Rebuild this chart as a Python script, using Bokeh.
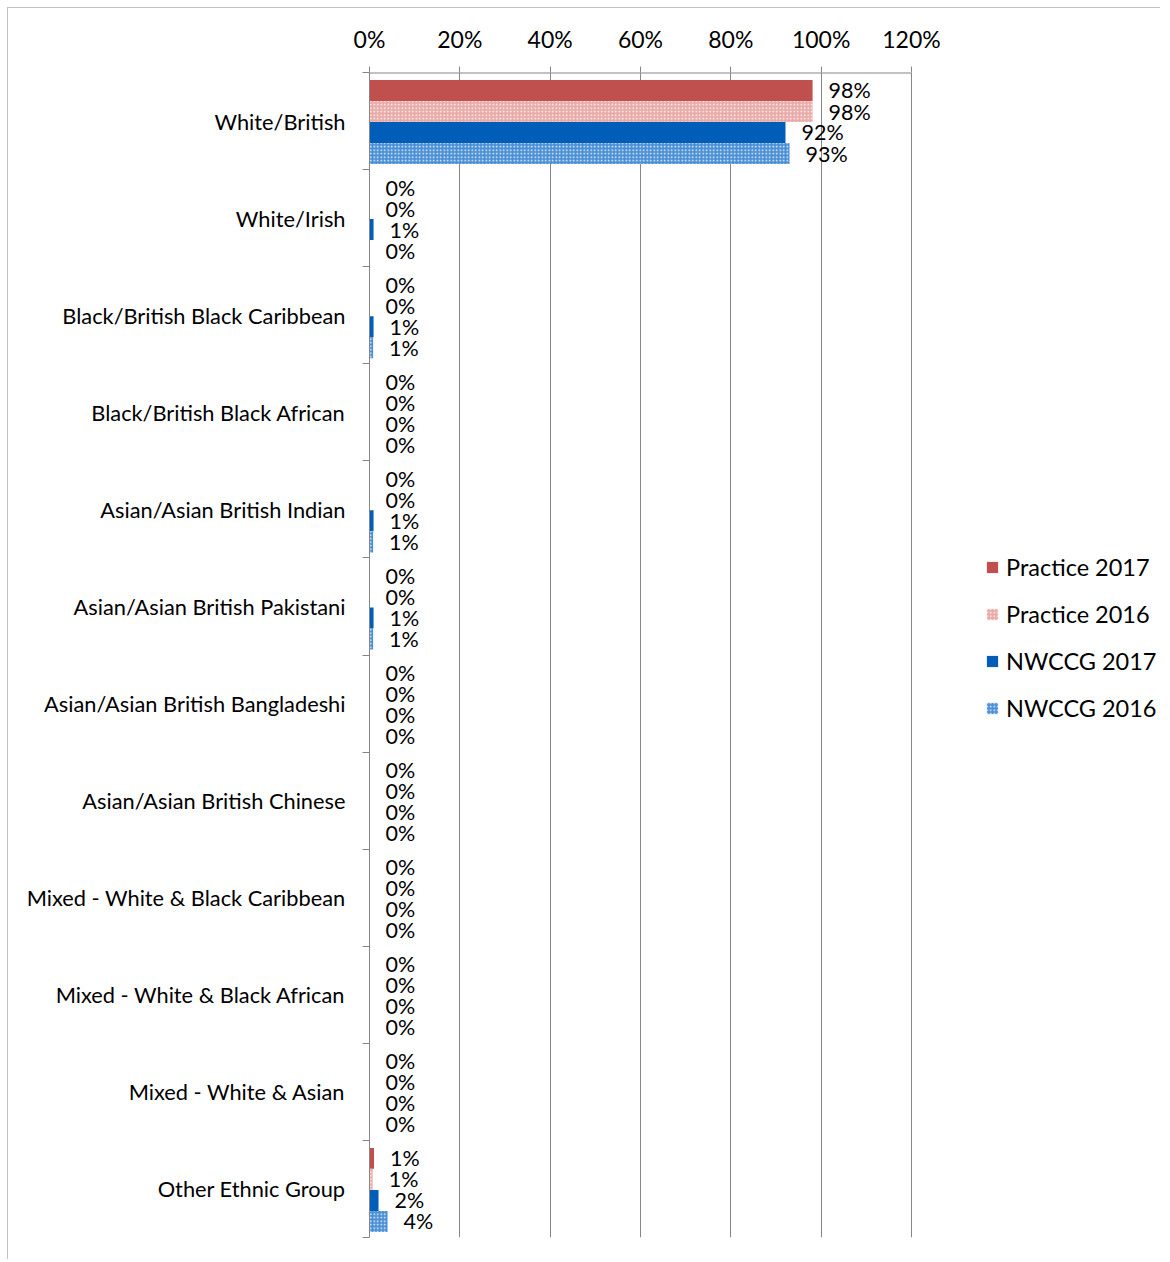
from bokeh.plotting import figure
from bokeh.models import (ColumnDataSource, FixedTicker, NumeralTickFormatter,
                          Range1d, Legend, LegendItem)
from bokeh.embed import file_html
from bokeh.resources import INLINE
from bokeh.core.properties import value

categories = [
    "White/British", "White/Irish", "Black/British Black Caribbean",
    "Black/British Black African", "Asian/Asian British Indian",
    "Asian/Asian British Pakistani", "Asian/Asian British Bangladeshi",
    "Asian/Asian British Chinese", "Mixed - White & Black Caribbean",
    "Mixed - White & Black African", "Mixed - White & Asian",
    "Other Ethnic Group",
]
series_names = ["Practice 2017", "Practice 2016", "NWCCG 2017", "NWCCG 2016"]
practice_2017 = [0.981, 0.0, 0.0, 0.0, 0.0, 0.0, 0.0, 0.0, 0.0, 0.0, 0.0, 0.010]
practice_2016 = [0.981, 0.0, 0.0, 0.0, 0.0, 0.0, 0.0, 0.0, 0.0, 0.0, 0.0, 0.007]
nwccg_2017 = [0.921, 0.009, 0.009, 0.0, 0.009, 0.009, 0.0, 0.0, 0.0, 0.0, 0.0, 0.020]
nwccg_2016 = [0.930, 0.0, 0.008, 0.0, 0.008, 0.008, 0.0, 0.0, 0.0, 0.0, 0.0, 0.040]
x_ticks = [0, 0.2, 0.4, 0.6, 0.8, 1.0, 1.2]

series_values = [practice_2017, practice_2016, nwccg_2017, nwccg_2016]
fills = ["#c0504d", "#e8aaa8", "#005eb8", "#4a8fd6"]
hatches = [None, "dot", None, "dot"]
offsets = [-0.325, -0.108, 0.108, 0.325]
bar_h = 0.216

FONT = "Lato"
n = len(categories)

W, H = 1153, 1252
BL, BT, BB = 361, 64, 23
frame_w = W - BL
axis_px = 542  # pixel length of the 0..120% axis
x_end = x_ticks[-1] * frame_w / axis_px

p = figure(width=W, height=H, output_backend="svg", toolbar_location=None,
           x_range=Range1d(0, x_end), y_range=Range1d(n, 0),
           x_axis_location="above",
           min_border_left=BL, min_border_right=0,
           min_border_top=BT, min_border_bottom=BB)
p.styles = {"border-top": "1px solid #c0c0c0", "border-left": "1px solid #c0c0c0",
            "margin-left": "7px", "margin-top": "7px"}
p.outline_line_color = None

# top axis line only across 0..120%
p.segment(x0=[x_ticks[0]], x1=[x_ticks[-1]], y0=[0], y1=[0],
          line_color="#868686", line_width=2)

legend_items = []
for k, (name, vals) in enumerate(zip(series_names, series_values)):
    ys = [i + 0.51 + offsets[k] for i in range(n)]
    labels = ["%d%%" % round(v * 100) for v in vals]
    src = ColumnDataSource(dict(y=ys, right=vals, label=labels))
    kw = dict(fill_color=fills[k], line_color=None)
    if hatches[k]:
        kw.update(hatch_pattern=hatches[k], hatch_color="white",
                  hatch_scale=3.5, hatch_weight=1.2, hatch_alpha=0.9)
    r = p.hbar(y="y", left=0, right="right", height=bar_h, source=src, **kw)
    legend_items.append(LegendItem(label=name, renderers=[r]))
    p.text(x="right", y="y", text="label", source=src, x_offset=16,
           text_align="left", text_baseline="middle",
           text_font=value(FONT), text_font_size="21.5px", text_color="black")

# x axis (top)
xa = p.xaxis[0]
xa.ticker = FixedTicker(ticks=x_ticks)
xa.formatter = NumeralTickFormatter(format="0%")
xa.axis_line_color = None
xa.major_tick_line_color = "#868686"
xa.major_tick_out = 6
xa.major_tick_in = 0
xa.minor_tick_line_color = None
xa.major_label_text_font = FONT
xa.major_label_text_font_size = "23px"
xa.major_label_text_color = "black"
xa.major_label_standoff = 14

# y axis (left), labels at centres, ticks at boundaries
ya = p.yaxis[0]
centers = [i + 0.5 for i in range(n)]
ya.ticker = FixedTicker(ticks=centers, minor_ticks=list(range(n + 1)))
ya.major_label_overrides = {c: cat for c, cat in zip(centers, categories)}
ya.major_tick_line_color = None
ya.minor_tick_line_color = "#868686"
ya.minor_tick_out = 7
ya.minor_tick_in = 0
ya.axis_line_color = "#868686"
ya.major_label_text_font = FONT
ya.major_label_text_font_size = "21.8px"
ya.major_label_text_color = "black"
ya.major_label_standoff = 17

p.xgrid.ticker = FixedTicker(ticks=x_ticks)
p.xgrid.grid_line_color = "#868686"
p.ygrid.grid_line_color = None

legend = Legend(items=legend_items, location=(616, 515),
                label_text_font=FONT, label_text_font_size="23.5px",
                label_text_color="black", glyph_width=14, glyph_height=14,
                label_standoff=7, spacing=19, padding=0, margin=0,
                border_line_color=None, background_fill_alpha=0,
                label_height=20)
p.add_layout(legend, "center")

open("out.html", "w").write(file_html(p, INLINE))
